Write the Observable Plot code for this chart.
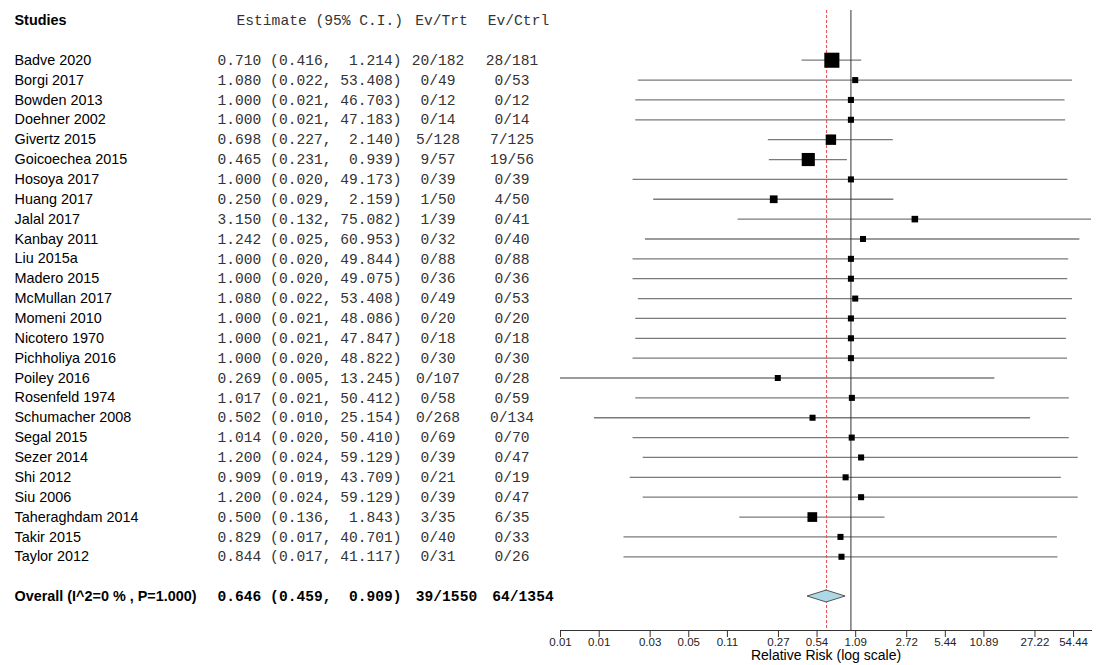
<!DOCTYPE html>
<html><head><meta charset="utf-8">
<script src="https://cdn.jsdelivr.net/npm/d3@7"></script>
<script src="https://cdn.jsdelivr.net/npm/@observablehq/plot@0.6"></script>
<style>
body{margin:0;background:#fff;}
svg text{white-space:pre;}
</style>
</head><body><div id="chart"></div>
<script>
const studies = ["Badve 2020","Borgi 2017","Bowden 2013","Doehner 2002","Givertz 2015","Goicoechea 2015","Hosoya 2017","Huang 2017","Jalal 2017","Kanbay 2011","Liu 2015a","Madero 2015","McMullan 2017","Momeni 2010","Nicotero 1970","Pichholiya 2016","Poiley 2016","Rosenfeld 1974","Schumacher 2008","Segal 2015","Sezer 2014","Shi 2012","Siu 2006","Taheraghdam 2014","Takir 2015","Taylor 2012"];
const estimates = [0.710,1.080,1.000,1.000,0.698,0.465,1.000,0.250,3.150,1.242,1.000,1.000,1.080,1.000,1.000,1.000,0.269,1.017,0.502,1.014,1.200,0.909,1.200,0.500,0.829,0.844];
const lowers = [0.416,0.022,0.021,0.021,0.227,0.231,0.020,0.029,0.132,0.025,0.020,0.020,0.022,0.021,0.021,0.020,0.005,0.021,0.010,0.020,0.024,0.019,0.024,0.136,0.017,0.017];
const uppers = [1.214,53.408,46.703,47.183,2.140,0.939,49.173,2.159,75.082,60.953,49.844,49.075,53.408,48.086,47.847,48.822,13.245,50.412,25.154,50.410,59.129,43.709,59.129,1.843,40.701,41.117];
const evTrt = ["20/182","0/49","0/12","0/14","5/128","9/57","0/39","1/50","1/39","0/32","0/88","0/36","0/49","0/20","0/18","0/30","0/107","0/58","0/268","0/69","0/39","0/21","0/39","3/35","0/40","0/31"];
const evCtrl = ["28/181","0/53","0/12","0/14","7/125","19/56","0/39","4/50","0/41","0/40","0/88","0/36","0/53","0/20","0/18","0/30","0/28","0/59","0/134","0/70","0/47","0/19","0/47","6/35","0/33","0/26"];
const overallLabel = "Overall (I^2=0 % , P=1.000)";
const overallEst = 0.646, overallLo = 0.459, overallHi = 0.909;
const overallTrt = "39/1550", overallCtrl = "64/1354";
const headers = ["Studies","Estimate (95% C.I.)","Ev/Trt","Ev/Ctrl"];
const tickValues = [0.00544,0.0109,0.0272,0.0544,0.1089,0.2722,0.5444,1.0889,2.7222,5.4444,10.8889,27.2222,54.4444];
const axisLabel = "Relative Risk (log scale)";

const fmt = d => d.toFixed(3);
const estText = (e, l, h) => `${fmt(e)} (${fmt(l)}, ${fmt(h).padStart(6)})`;
const rows = studies.map((s, i) => {
  const se = (Math.log(uppers[i]) - Math.log(lowers[i])) / 3.92;
  return {study: s, est: estimates[i], lo: lowers[i], hi: uppers[i], trt: evTrt[i], ctrl: evCtrl[i],
          row: i + 2, weight: 1 / (se * se), text: estText(estimates[i], lowers[i], uppers[i])};
});
const overallRow = 29;
const diamond = [
  {y: overallRow - 0.3, x1: overallEst, x2: overallEst},
  {y: overallRow, x1: overallLo, x2: overallHi},
  {y: overallRow + 0.3, x1: overallEst, x2: overallEst}
];

const sans = "'Liberation Sans', Arial, sans-serif";
const mono = "'Liberation Mono', 'Courier New', monospace";
const L = {name: -546, est: -159, estH: -157.5, trt: -122.5, ctrl: -48.5, trtH: -119, ctrlH: -42, trtO: -114, ctrlO: -37.5};
const nameSize = 14.4, monoSize = 14.6;

const chart = Plot.plot({
  width: 1099, height: 665,
  marginLeft: 560, marginRight: 8, marginTop: 10, marginBottom: 35,
  style: {fontFamily: sans, background: "#fff", overflow: "visible", color: "#000"},
  x: {type: "log", domain: [0.00544, 75.1]},
  y: {domain: [0, 29], range: [20, 596], axis: null},
  r: {type: "pow", exponent: 0.3, domain: d3.extent(rows, d => d.weight), range: [3.4, 8.5]},
  marks: [
    Plot.ruleY(rows, {y: "row", x1: "lo", x2: "hi", stroke: "#7a7a7a", strokeWidth: 1.3, clip: true}),
    Plot.ruleX([1], {stroke: "#333", strokeWidth: 1}),
    Plot.ruleX([overallEst], {stroke: "#e8474c", strokeWidth: 1, strokeDasharray: "3,2"}),
    Plot.dot(rows, {x: "est", y: "row", r: "weight", symbol: "square", fill: "#000", stroke: null}),
    Plot.areaX(diamond, {y: "y", x1: "x1", x2: "x2", fill: "#add8e6", stroke: "#555", strokeWidth: 1}),
    Plot.frame({anchor: "bottom", stroke: "#333"}),
    Plot.axisX({ticks: tickValues, tickFormat: () => "", tickSize: 7, stroke: "#333", label: null}),
    Plot.text(tickValues, {x: d => d, text: d => d.toFixed(2), frameAnchor: "bottom", dy: 15, fontSize: 11.5, fill: "#222"}),
    Plot.text([axisLabel], {frameAnchor: "bottom", dy: 29, fontSize: 14, fill: "#000"}),
    // header row
    Plot.text([headers[0]], {y: () => 0, frameAnchor: "left", dx: L.name, textAnchor: "start", fontWeight: "bold", fontSize: nameSize, fill: "#000"}),
    Plot.text([headers[1]], {y: () => 0, frameAnchor: "left", dx: L.estH, textAnchor: "end", fontFamily: mono, fontSize: monoSize, fill: "#333"}),
    Plot.text([headers[2]], {y: () => 0, frameAnchor: "left", dx: L.trtH, textAnchor: "middle", fontFamily: mono, fontSize: monoSize, fill: "#333"}),
    Plot.text([headers[3]], {y: () => 0, frameAnchor: "left", dx: L.ctrlH, textAnchor: "middle", fontFamily: mono, fontSize: monoSize, fill: "#333"}),
    // study rows
    Plot.text(rows, {y: "row", text: "study", frameAnchor: "left", dx: L.name, textAnchor: "start", fontSize: nameSize, fill: "#000"}),
    Plot.text(rows, {y: "row", text: "text", frameAnchor: "left", dx: L.est, textAnchor: "end", fontFamily: mono, fontSize: monoSize, fill: "#333"}),
    Plot.text(rows, {y: "row", text: "trt", frameAnchor: "left", dx: L.trt, textAnchor: "middle", fontFamily: mono, fontSize: monoSize, fill: "#333"}),
    Plot.text(rows, {y: "row", text: "ctrl", frameAnchor: "left", dx: L.ctrl, textAnchor: "middle", fontFamily: mono, fontSize: monoSize, fill: "#333"}),
    // overall row
    Plot.text([overallLabel], {y: () => overallRow, frameAnchor: "left", dx: L.name, textAnchor: "start", fontWeight: "bold", fontSize: nameSize, fill: "#000"}),
    Plot.text([estText(overallEst, overallLo, overallHi)], {y: () => overallRow, frameAnchor: "left", dx: L.est, textAnchor: "end", fontFamily: mono, fontWeight: "bold", fontSize: monoSize, fill: "#000"}),
    Plot.text([overallTrt], {y: () => overallRow, frameAnchor: "left", dx: L.trtO, textAnchor: "middle", fontFamily: mono, fontWeight: "bold", fontSize: monoSize, fill: "#000"}),
    Plot.text([overallCtrl], {y: () => overallRow, frameAnchor: "left", dx: L.ctrlO, textAnchor: "middle", fontFamily: mono, fontWeight: "bold", fontSize: monoSize, fill: "#000"})
  ]
});
document.getElementById("chart").appendChild(chart);
</script>
</body></html>
